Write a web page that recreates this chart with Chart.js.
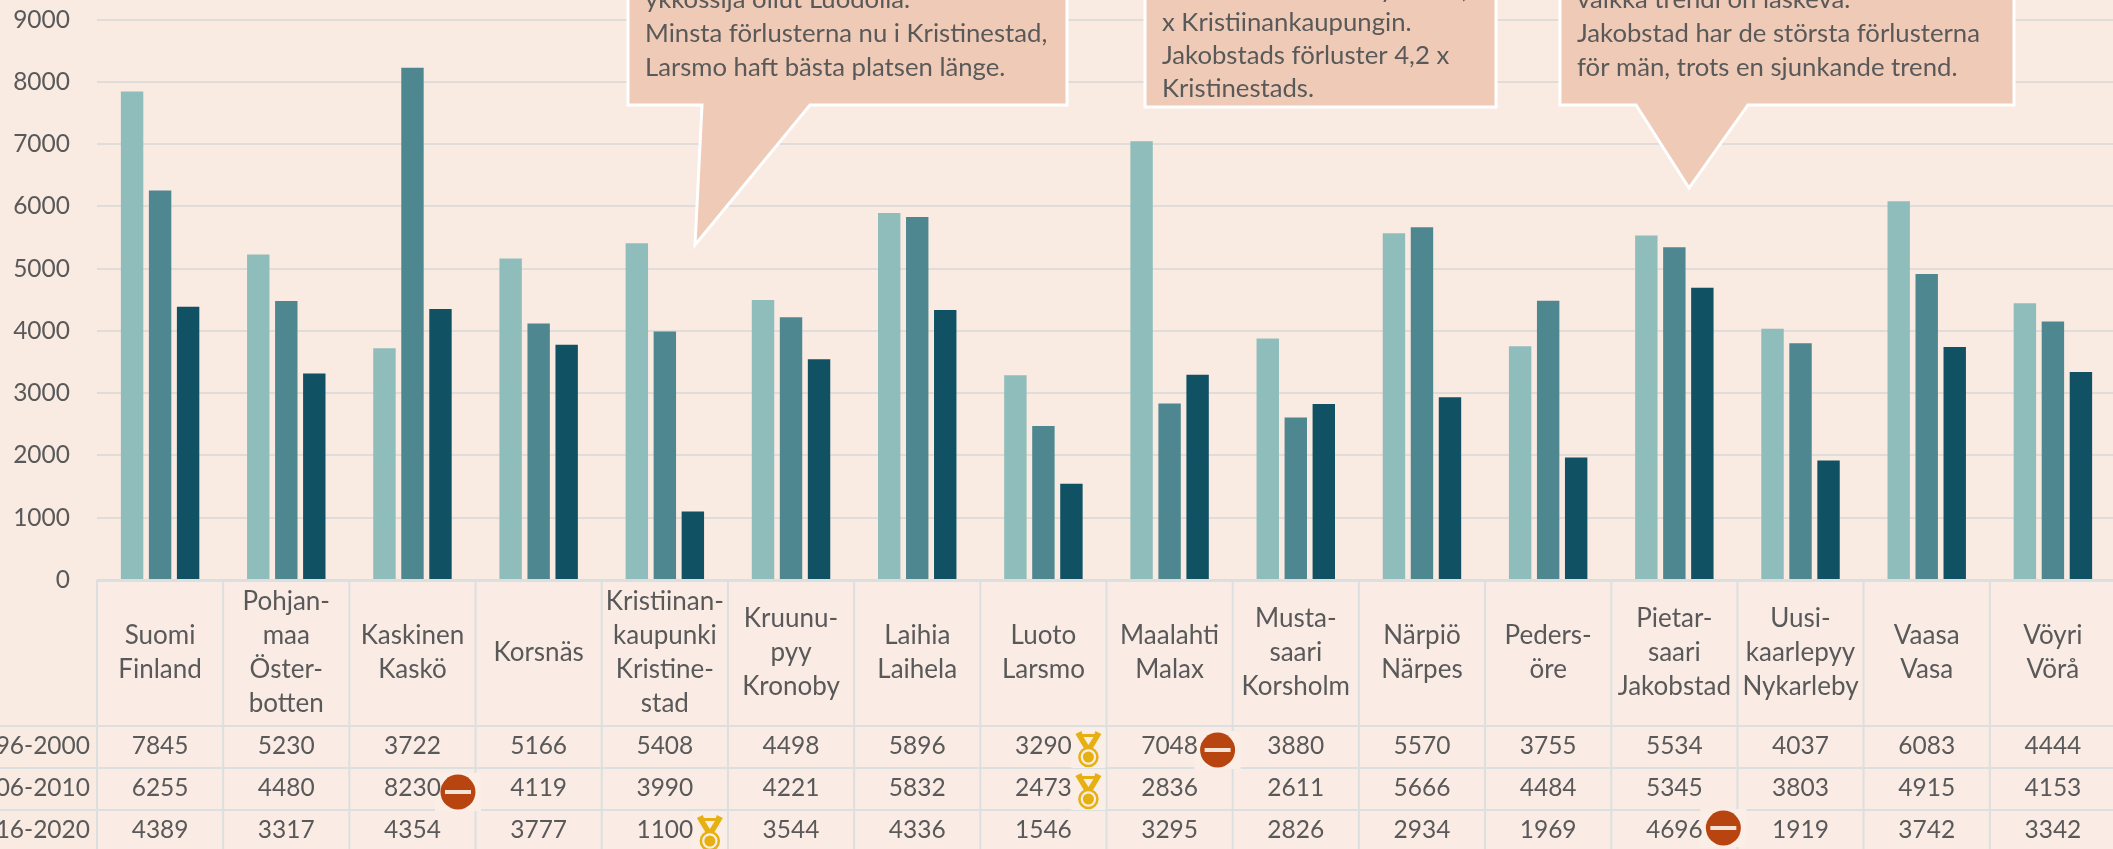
<!DOCTYPE html>
<html>
<head>
<meta charset="utf-8">
<title>Förluster</title>
<script src="https://cdn.jsdelivr.net/npm/chart.js@4"></script>
<style>
  html, body { margin: 0; padding: 0; background: #f9eae2; overflow: hidden; width: 2113px; height: 849px; }
  /* canvas runs past the window: the source picture is cropped at the top and right */
  #wrap { position: absolute; left: 0; top: -22px; width: 2140px; height: 871px; }
</style>
</head>
<body>
<div id="wrap"><canvas id="chart" width="2140" height="871"></canvas></div>
<script>
const categories = [
  ['Suomi', 'Finland'],
  ['Pohjan-', 'maa', 'Öster-', 'botten'],
  ['Kaskinen', 'Kaskö'],
  ['Korsnäs'],
  ['Kristiinan-', 'kaupunki', 'Kristine-', 'stad'],
  ['Kruunu-', 'pyy', 'Kronoby'],
  ['Laihia', 'Laihela'],
  ['Luoto', 'Larsmo'],
  ['Maalahti', 'Malax'],
  ['Musta-', 'saari', 'Korsholm'],
  ['Närpiö', 'Närpes'],
  ['Peders-', 'öre'],
  ['Pietar-', 'saari', 'Jakobstad'],
  ['Uusi-', 'kaarlepyy', 'Nykarleby'],
  ['Vaasa', 'Vasa'],
  ['Vöyri', 'Vörå']
];
const periods = ['1996-2000', '2006-2010', '2016-2020'];
const values1996 = [7845, 5230, 3722, 5166, 5408, 4498, 5896, 3290, 7048, 3880, 5570, 3755, 5534, 4037, 6083, 4444];
const values2006 = [6255, 4480, 8230, 4119, 3990, 4221, 5832, 2473, 2836, 2611, 5666, 4484, 5345, 3803, 4915, 4153];
const values2016 = [4389, 3317, 4354, 3777, 1100, 3544, 4336, 1546, 3295, 2826, 2934, 1969, 4696, 1919, 3742, 3342];
const rows = [values1996, values2006, values2016];

// [column, row] of the table icons
const medals = [[4, 2], [7, 0], [7, 1]];
const stops = [[2, 1], [8, 0], [12, 2]];

const FONT = 'Lato, "Open Sans", sans-serif';
const TEXT = '#595959';
const GRID = '#dfdcda';
const TABLE_LINE = '#dcdfe0';
const PATCH = '#fbeee7';

const SHIFT = 22; // canvas pixels hidden above the window
const ROW_TOP = 726, ROW_H = 42;
const LINE_H = 34;

function drawMedal(ctx, x, top) {
  ctx.fillStyle = PATCH;
  ctx.fillRect(x - 17, top - 3, 34, 40);
  ctx.fillStyle = '#e6b012';
  ctx.beginPath();
  // ribbon
  ctx.moveTo(x - 13, top + 3); ctx.lineTo(x - 7, top);
  ctx.lineTo(x - 6, top + 3); ctx.lineTo(x + 6, top + 3);
  ctx.lineTo(x + 7, top); ctx.lineTo(x + 13, top + 3);
  ctx.lineTo(x + 4, top + 18); ctx.lineTo(x - 4, top + 18);
  ctx.closePath();
  ctx.fill();
  // notch between the two bands
  ctx.fillStyle = PATCH;
  ctx.beginPath();
  ctx.moveTo(x - 5, top + 6); ctx.lineTo(x + 5, top + 6); ctx.lineTo(x, top + 14);
  ctx.closePath();
  ctx.fill();
  ctx.strokeStyle = '#e6b012';
  ctx.lineWidth = 2.5;
  ctx.beginPath();
  ctx.arc(x, top + 26, 9, 0, Math.PI * 2);
  ctx.stroke();
  ctx.fillStyle = '#e6b012';
  ctx.beginPath();
  ctx.arc(x, top + 26, 5.5, 0, Math.PI * 2);
  ctx.fill();
}

function drawStop(ctx, x, y) {
  ctx.fillStyle = PATCH;
  ctx.fillRect(x - 23, y - 19, 46, 38);
  ctx.fillStyle = '#b8440f';
  ctx.beginPath();
  ctx.arc(x, y, 17.5, 0, Math.PI * 2);
  ctx.fill();
  ctx.fillStyle = '#f6e3d8';
  ctx.fillRect(x - 13, y - 2, 26, 4);
}

function callout(ctx, box, tip, lines) {
  ctx.beginPath();
  ctx.moveTo(box.l, box.t);
  ctx.lineTo(box.r, box.t);
  ctx.lineTo(box.r, box.b);
  if (tip) {
    ctx.lineTo(tip.b2, box.b);
    ctx.lineTo(tip.x, tip.y);
    ctx.lineTo(tip.b1, box.b);
  }
  ctx.lineTo(box.l, box.b);
  ctx.closePath();
  ctx.fillStyle = '#efcbb7';
  ctx.fill();
  ctx.strokeStyle = '#ffffff';
  ctx.lineWidth = 3;
  ctx.stroke();
  ctx.fillStyle = TEXT;
  ctx.font = '25.7px ' + FONT;
  ctx.textAlign = 'left';
  ctx.textBaseline = 'middle';
  lines.forEach(([text, y]) => ctx.fillText(text, box.l + 17, y));
}

const tablePlugin = {
  id: 'dataTable',
  afterDraw(chart) {
    const { ctx, chartArea } = chart;
    const x = chart.scales.x;
    const colW = x.getPixelForValue(1) - x.getPixelForValue(0);
    const left = chartArea.left;
    const right = chartArea.right;
    const top = chartArea.bottom - SHIFT;
    ctx.save();
    ctx.translate(0, SHIFT);

    // table background and lines
    ctx.fillStyle = '#faece5';
    ctx.fillRect(left, top, right - left, 849 - top);
    ctx.strokeStyle = TABLE_LINE;
    ctx.lineWidth = 2;
    ctx.beginPath();
    ctx.moveTo(left, top + 1); ctx.lineTo(right, top + 1);
    for (let r = 0; r < 3; r++) {
      ctx.moveTo(0, ROW_TOP + r * ROW_H); ctx.lineTo(right, ROW_TOP + r * ROW_H);
    }
    categories.forEach((_, i) => {
      const cx = left + i * colW;
      ctx.moveTo(cx, top); ctx.lineTo(cx, 849);
    });
    ctx.stroke();

    ctx.fillStyle = TEXT;
    ctx.textBaseline = 'middle';

    medals.forEach(([c, r]) => drawMedal(ctx, x.getPixelForValue(c) + 45, ROW_TOP + r * ROW_H + 5));
    drawStop(ctx, x.getPixelForValue(stops[0][0]) + 45.5, ROW_TOP + stops[0][1] * ROW_H + 24);
    drawStop(ctx, x.getPixelForValue(stops[1][0]) + 48, ROW_TOP + stops[1][1] * ROW_H + 24);
    drawStop(ctx, x.getPixelForValue(stops[2][0]) + 49, ROW_TOP + stops[2][1] * ROW_H + 18);

    // municipality names
    ctx.fillStyle = TEXT;
    ctx.textAlign = 'center';
    ctx.font = '26px ' + FONT;
    const headMid = (top + ROW_TOP) / 2;
    categories.forEach((lines, i) => {
      const cx = x.getPixelForValue(i);
      lines.forEach((line, j) => {
        ctx.fillText(line, cx, headMid + (j - (lines.length - 1) / 2) * LINE_H);
      });
    });

    // values and row titles
    ctx.font = '24.5px ' + FONT;
    rows.forEach((row, r) => {
      const y = ROW_TOP + r * ROW_H + 20;
      row.forEach((v, i) => ctx.fillText(String(v), x.getPixelForValue(i), y));
      ctx.textAlign = 'right';
      ctx.fillText(periods[r], left - 7, y);
      ctx.textAlign = 'center';
    });

    callout(ctx, { l: 628, r: 1067, t: -50, b: 105 }, { b1: 702, b2: 810, x: 695, y: 245 }, [
      ['ykkössija ollut Luodolla.', 0],
      ['Minsta förlusterna nu i Kristinestad,', 34],
      ['Larsmo haft bästa platsen länge.', 68]
    ]);
    callout(ctx, { l: 1145, r: 1496, t: -50, b: 107 }, null, [
      ['Pietarsaaren menetykset 4,2', -10],
      ['x Kristiinankaupungin.', 23],
      ['Jakobstads förluster 4,2 x', 56],
      ['Kristinestads.', 89]
    ]);
    callout(ctx, { l: 1560, r: 2014, t: -50, b: 105 }, { b1: 1636, b2: 1748, x: 1689, y: 188 }, [
      ['vaikka trendi on laskeva.', 0],
      ['Jakobstad har de största förlusterna', 34],
      ['för män, trots en sjunkande trend.', 68]
    ]);
    ctx.restore();
  }
};

new Chart(document.getElementById('chart').getContext('2d'), {
  type: 'bar',
  data: {
    labels: categories.map((c) => c.join(' ')),
    datasets: [
      { label: periods[0], data: values1996, backgroundColor: '#8fbdbb' },
      { label: periods[1], data: values2006, backgroundColor: '#4f8790' },
      { label: periods[2], data: values2016, backgroundColor: '#105264' }
    ]
  },
  options: {
    responsive: false,
    animation: false,
    events: [],
    layout: { autoPadding: false, padding: { left: 0, right: 24, top: 0, bottom: 269 } },
    datasets: { bar: { categoryPercentage: 0.666, barPercentage: 0.8 } },
    plugins: { legend: { display: false }, tooltip: { enabled: false } },
    scales: {
      x: {
        afterFit(scale) { scale.height = 0; },
        grid: { display: false },
        border: { display: false },
        ticks: { display: false }
      },
      y: {
        min: 0,
        max: 9000,
        afterFit(scale) { scale.width = 97; },
        grid: { color: GRID, lineWidth: 2, drawTicks: false },
        border: { display: false },
        ticks: {
          stepSize: 1000,
          color: TEXT,
          padding: 27,
          font: { family: FONT, size: 24.5 },
          callback: (v) => String(v)
        }
      }
    }
  },
  plugins: [tablePlugin]
});
</script>
</body>
</html>
